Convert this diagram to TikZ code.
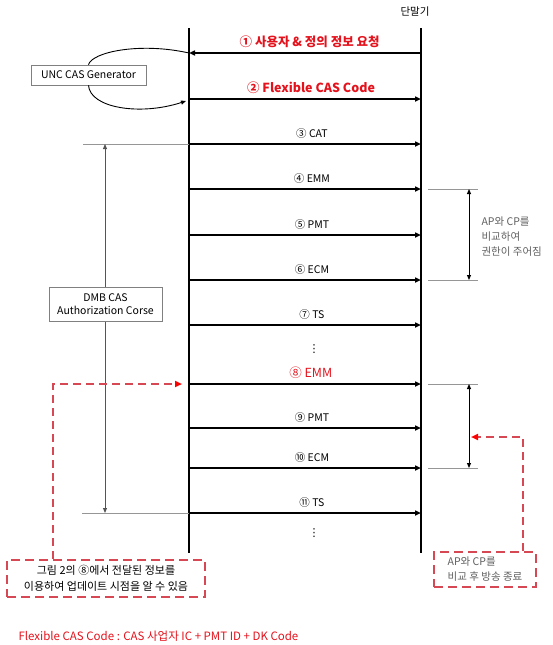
\documentclass[tikz,border=0pt]{standalone}
\usepackage{fontspec}
\setmainfont{Noto Sans CJK KR}
\newfontfamily\symfont{DejaVu Sans}
\usetikzlibrary{
    arrows.meta,
    positioning,
    calc,
}
\definecolor{msgred}{RGB}{228,18,28}
\definecolor{dashred}{RGB}{214,72,84}
\definecolor{tickgray}{RGB}{150,150,150}
\definecolor{spangray}{RGB}{85,85,85}
\definecolor{notegray}{RGB}{95,95,95}

\begin{document}
\begin{tikzpicture}[x=1pt,y=-1pt,
        lifeline/.style={line width=2.4pt},
        msg/.style={line width=2pt,-{Triangle[length=6pt,width=5pt]}},
        msglabel/.style={font=\fontsize{10.5}{12}\selectfont,above=1pt},
        redlabel/.style={font=\fontsize{12.5}{14}\selectfont,text=msgred,above=1pt},
        redbold/.style={redlabel,font=\fontsize{12.5}{14}\selectfont\bfseries},
        tick/.style={tickgray,line width=0.8pt},
        span/.style={line width=0.9pt,{Triangle[length=5pt,width=4pt]}-{Triangle[length=5pt,width=4pt]}},
        textbox/.style={draw=gray,fill=white,line width=0.6pt,inner sep=1pt,
            font=\fontsize{10.5}{12.5}\selectfont,align=center},
        notebox/.style={draw=dashred,line width=2.2pt,dash pattern=on 9pt off 5pt,fill=white,
            inner sep=1pt,font=\fontsize{11}{15.5}\selectfont},
        hint/.style={dashred,line width=1.8pt,dash pattern=on 8pt off 5pt,
            -{Triangle[length=7pt,width=6pt,color=red]}},
        vdots/.style={font=\symfont\fontsize{11}{11}\selectfont,inner sep=0pt},
    ]
        \useasboundingbox (0,0) rectangle (552,645);

        \coordinate (ltop) at (189,28);
        \coordinate (lbot) at (189,553);
        \coordinate (rtop) at (421,28);
        \coordinate (rbot) at (421,553);
        \draw[lifeline] (ltop) -- (lbot);
        \draw[lifeline] (rtop) -- (rbot);
        \node[font=\fontsize{10.5}{12}\selectfont] (term) at (415,12) {단말기};

        \foreach \i/\y in {1/53,2/99,3/144,4/189,5/235,6/280,7/325,8/384,9/428,10/468,11/513} {
            \coordinate (l\i) at (189,\y);
            \coordinate (r\i) at (421,\y);
        }

        \draw[msg] (r1) -- node[redbold,pos=0.48] {① 사용자 \& 정의 정보 요청} (l1);
        \draw[msg] (l2) -- node[redbold,pos=0.526] {② Flexible CAS Code} (r2);
        \draw[msg] (l8) -- node[redlabel,pos=0.525] {⑧ EMM} (r8);
        \foreach \i/\txt in {3/③ CAT,4/④ EMM,5/⑤ PMT,6/⑥ ECM,7/⑦ TS,9/⑨ PMT,10/⑩ ECM,11/⑪ TS}
            \draw[msg] (l\i) -- node[msglabel,pos=0.53] {\txt} (r\i);

        \node[vdots] (dots1) at (314,349) {⋮};
        \node[vdots] (dots2) at (314,533) {⋮};

        \coordinate (g2) at (186,101);
        \node[textbox,minimum width=115,minimum height=20] (unc) at (88.5,75) {UNC CAS Generator};
        \draw[line width=0.9pt] (l1) .. controls (140,42) and (92,52) .. (unc.north);
        \draw[line width=0.9pt,-{Triangle[length=5pt,width=4pt]}] (unc.south) .. controls (90,108) and (140,116) .. (g2);

        \coordinate (tk3) at (83,144);
        \coordinate (tk11) at (82,513);
        \coordinate (sp3) at (105,144);
        \coordinate (sp11) at (105,513);
        \draw[tick] (tk3) -- (l3);
        \draw[tick] (tk11) -- (l11);
        \draw[span,spangray] (sp3) -- (sp11);
        \node[textbox,minimum width=113,minimum height=34] (dmb) at (105.5,304) {DMB CAS\\Authorization Corse};

        \foreach \i/\y in {4/189,6/280,8/384,10/468} {
            \coordinate (ta\i) at (428,\y);
            \coordinate (tb\i) at (478,\y);
            \coordinate (s\i) at (469,\y);
            \draw[tick] (ta\i) -- (tb\i);
        }
        \draw[span] (s4) -- (s6);
        \draw[span] (s8) -- (s10);
        \node[anchor=west,align=left,text=notegray,font=\fontsize{10.5}{15}\selectfont] (grant) at (478,237)
            {AP와 CP를\\비교하여\\권한이 주어짐};

        \node[notebox,minimum width=198,minimum height=37,align=center] (upd) at (106,578.5)
            {그림 2의 ⑧에서 전달된 정보를\\이용하여 업데이트 시점을 알 수 있음};
        \node[notebox,minimum width=102,minimum height=35,align=left,text=notegray,
            font=\fontsize{10.5}{15}\selectfont] (stop) at (485,569.5)
            {AP와 CP를\\비교 후 방송 종료};
        \coordinate (h1) at (471,437);
        \coordinate (h2) at (182,384);
        \draw[hint] ([xshift=-14pt]stop.north east) |- (h1);
        \draw[hint] ([xshift=47pt]upd.north west) |- (h2);

        \node[anchor=west,text=msgred,font=\fontsize{11.5}{13}\selectfont] (legend) at (15,636)
            {Flexible CAS Code : CAS 사업자 IC + PMT ID + DK Code};
    \end{tikzpicture}
\end{document}
